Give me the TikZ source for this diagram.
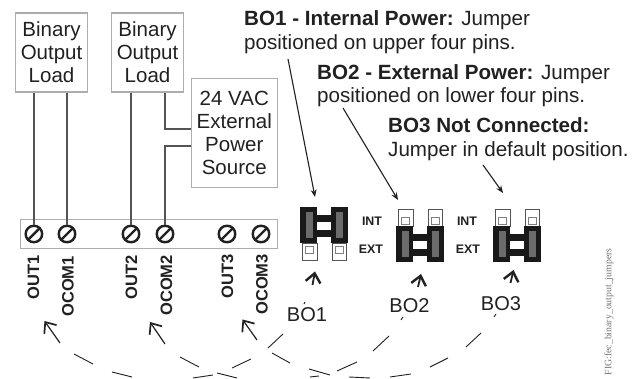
\documentclass[tikz,border=0pt]{standalone}
\usepackage{fontspec}
\setmainfont{Liberation Sans}
\newfontfamily\serifcap{Liberation Serif}
\usetikzlibrary{arrows.meta}
\definecolor{inkd}{gray}{0.13}
\definecolor{wire}{gray}{0.33}
\definecolor{frame}{gray}{0.68}
\definecolor{capgray}{gray}{0.45}
\tikzset{
  x=1pt,y=-1pt,
  labelbox/.style={draw=frame,line width=1.1pt,fill=white,inner sep=0pt,align=center,font=\fontsize{20.5}{23}\selectfont,text=inkd},
  wireline/.style={draw=wire,line width=1.6pt},
  screw/.style={circle,draw=inkd,line width=2.4pt,minimum size=16.5pt,inner sep=0pt,fill=white},
  termlabel/.style={rotate=90,anchor=east,inner sep=0pt,font=\fontsize{16.5}{18}\selectfont\bfseries,text=inkd},
  heading/.style={anchor=base west,inner sep=0pt,font=\fontsize{20.6}{22}\selectfont,text=inkd},
  pinlabel/.style={inner sep=0pt,font=\fontsize{12.4}{14}\selectfont\bfseries,text=inkd},
  bolabel/.style={inner sep=0pt,font=\fontsize{20}{22}\selectfont,text=inkd},
  pointer/.style={draw=inkd,line width=1.1pt,-{Stealth[length=7.5pt,width=6pt]}},
  openpointer/.style={draw=inkd,line width=1.2pt,-{Straight Barb[length=9pt,width=15pt,line width=1.7pt]}},
  smallpointer/.style={draw=inkd,line width=1.8pt,-{Straight Barb[length=9pt,width=15pt,line width=2.4pt]}},
  dashpiece/.style={draw=inkd,line width=0.9pt},
}
\newcommand{\jumperbody}[2]{%
  \fill[black!90] (#1,#2) rectangle ++(17,36);
  \fill[black!90] (#1+31,#2) rectangle ++(17,36);
  \fill[black!90] (#1+16,#2+8) rectangle ++(16,7);
  \fill[black!90] (#1+16,#2+23.5) rectangle ++(16,6.5);
  \fill[black!58] (#1+5.5,#2+5) rectangle ++(7,26);
  \fill[black!58] (#1+36,#2+5) rectangle ++(7,26);
}
% #1 left x, #2 top y, #3 offset of the inner square
\newcommand{\pinpair}[3]{%
  \draw[wire,line width=0.9pt,fill=white] (#1+2,#2) rectangle ++(15,17);
  \draw[wire,line width=0.9pt,fill=white] (#1+32,#2) rectangle ++(14.5,17);
  \draw[gray,line width=0.8pt,fill=white] (#1+5.5,#2+#3) rectangle ++(7.5,7.5);
  \draw[gray,line width=0.8pt,fill=white] (#1+35.5,#2+#3) rectangle ++(7.5,7.5);
}
\begin{document}
\begin{tikzpicture}
\useasboundingbox (0,0) rectangle (641,379);
\fill[white] (0,0) rectangle (641,379);
% strip
\node[draw=frame,line width=1.1pt,minimum width=257pt,minimum height=29pt,inner sep=0pt,anchor=north west] (strip) at (19.5,219) {};
% screws
\foreach \n/\xx in {s1/33.9,s2/67,s3/131,s4/165,s5/227,s6/261}{
  \node[screw] (\n) at (\xx,234) {};
  \draw[inkd,line width=2.4pt] (\xx-6.5,240.5) -- (\xx+6.5,227.5);
}
% boxes
\node[labelbox,minimum width=72pt,minimum height=79pt,anchor=north west] (load1) at (15,12.5) {Binary\\Output\\Load};
\node[labelbox,minimum width=72pt,minimum height=79pt,anchor=north west] (load2) at (111,12.5) {Binary\\Output\\Load};
\node[labelbox,minimum width=85.5pt,minimum height=109pt,anchor=north west] (power) at (191,78) {24 VAC\\External\\Power\\Source};
% wires
\draw[wireline] (load1.south -| s1.north) -- (s1.north);
\draw[wireline] (load1.south -| s2.north) -- (s2.north);
\draw[wireline] (load2.south -| s3.north) -- (s3.north);
\coordinate (bendA) at (164.7,129);
\coordinate (bendB) at (165,146);
\draw[wireline] (load2.south -| bendA) -- (bendA) -- (bendA -| power.west);
\draw[wireline] (bendB -| power.west) -- (bendB) -- (s4.north);
% terminal labels
\node[termlabel] (t1) at (33.5,255) {OUT1};
\node[termlabel] (t2) at (68,256) {OCOM1};
\node[termlabel] (t3) at (131.5,255) {OUT2};
\node[termlabel] (t4) at (166.5,255) {OCOM2};
\node[termlabel] (t5) at (227.5,254) {OUT3};
\node[termlabel] (t6) at (262,254) {OCOM3};
% headings
\node[heading] (h1a) at (244,26) {\textbf{BO1 - Internal Power:} Jumper};
\node[heading] (h1b) at (244,50) {positioned on upper four pins.};
\node[heading] (h2a) at (317,80) {\textbf{BO2 - External Power:} Jumper};
\node[heading] (h2b) at (317,103) {positioned on lower four pins.};
\node[heading] (h3a) at (388,133) {\textbf{BO3 Not Connected:}};
\node[heading] (h3b) at (388,157) {Jumper in default position.};
% jumpers
\jumperbody{300}{207}\pinpair{300}{243}{3}
\pinpair{396}{209}{8}\jumperbody{396}{226}
\pinpair{493}{209}{8}\jumperbody{493}{226}
\node[pinlabel] (i1) at (372,221) {INT};
\node[pinlabel] (e1) at (371,249) {EXT};
\node[pinlabel] (i2) at (467,221) {INT};
\node[pinlabel] (e2) at (468,249) {EXT};
% pointers
\coordinate (j1) at (315,197);
\coordinate (j2) at (398,200);
\coordinate (j3) at (503,193);
\coordinate (p1) at (288,59);
\coordinate (p2) at (343,108);
\coordinate (p3) at (483,165);
\draw[pointer] (p1) -- (j1);
\draw[pointer] (p2) -- (j2);
\draw[pointer] (p3) -- (j3);
% BO labels
\node[bolabel] (b1) at (307,315) {BO1};
\node[bolabel] (b2) at (409.5,306) {BO2};
\node[bolabel] (b3) at (501,304) {BO3};
\coordinate (q1) at (312.5,285);
\coordinate (q2) at (418,287);
\coordinate (q3) at (510.5,283);
\coordinate (r1) at (315,271.5);
\coordinate (r2) at (421,274);
\coordinate (r3) at (513.5,270);
\draw[smallpointer] (q1) -- (r1);
\draw[smallpointer] (q2) -- (r2);
\draw[smallpointer] (q3) -- (r3);
% long dashed arcs
\draw[dashpiece] (304,304) -- (305,302);
\draw[dashpiece] (283,334) -- (268,348) (251,359) -- (232,368) (213,375) -- (193,378);
\draw[dashpiece] (132,377) -- (112,372) (93,364) -- (74,354);
\draw[openpointer] (60,343) -- (44.5,321);
\draw[dashpiece] (401,320) -- (403,317);
\draw[dashpiece] (389,336) -- (373,351) (357,362) -- (337,371) (319,376) -- (310,377);
\draw[dashpiece] (237,378) -- (217,373) (199,367) -- (180,357);
\draw[openpointer] (165,344) -- (150,322);
\draw[dashpiece] (494,317) -- (496,314);
\draw[dashpiece] (481,333) -- (466,347) (448,358) -- (430,367) (411,374) -- (390,377) (370,378) -- (349,377) (330,375) -- (309,369) (290,363) -- (272,353);
\draw[openpointer] (257,340) -- (242.5,319.5);
% figure tag
\node[rotate=90,anchor=west,inner sep=0pt,text=capgray,font=\serifcap\fontsize{9.8}{10}\selectfont] (tag) at (609,375.5) {FIG:fec\_binary\_output\_jumpers};
\end{tikzpicture}
\end{document}
